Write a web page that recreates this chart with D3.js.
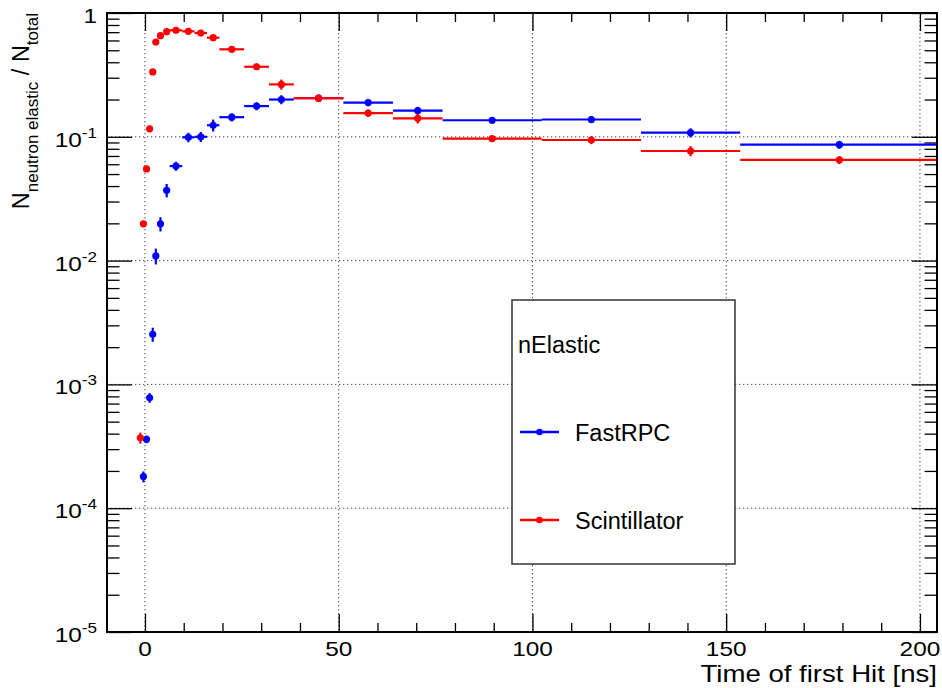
<!DOCTYPE html>
<html>
<head>
<meta charset="utf-8">
<script src="https://cdn.jsdelivr.net/npm/d3@7"></script>
<style>
  html, body { margin: 0; padding: 0; background: #fff; }
  svg { display: block; font-family: "Liberation Sans", Arial, Helvetica, sans-serif; }
</style>
</head>
<body>
<svg id="chart" width="942" height="688"></svg>
<script>
// Variable-width time bins [ns]
const binEdges = [-1.6, -0.8, 0, 0.8, 1.6, 2.4, 3.2, 4.8, 6.4, 9.6, 12.8, 16, 19.2,
                  25.6, 32, 38.4, 51.2, 64, 76.8, 102.4, 128, 153.6, 204.8];

// Fraction of neutron elastic events per bin, with statistical errors
const fastRpcValues = [null, 1.8e-4, 3.6e-4, 7.8e-4, 2.54e-3, 0.0109, 0.0198, 0.037, 0.058,
                       0.099, 0.100, 0.124, 0.144, 0.177, 0.200, 0.205, 0.189, 0.1625,
                       0.136, 0.138, 0.108, 0.0863];
const fastRpcErrors = [null, 1.8e-5, 2.5e-5, 7e-5, 3.3e-4, 1.6e-3, 2.6e-3, 4.6e-3, 4.9e-3,
                       8.7e-3, 9.3e-3, 0.0138, 0.0108, 0.0132, 0.0168, 0.0134, 0.0123, 0.0121,
                       0.0076, 0.009, 0.0091, 0.0064];
const scintValues = [3.7e-4, 0.0198, 0.055, 0.116, 0.334, 0.583, 0.656, 0.706, 0.725,
                     0.711, 0.689, 0.632, 0.509, 0.368, 0.265, 0.205, 0.1556, 0.141,
                     0.0965, 0.0942, 0.0768, 0.065];
const scintErrors = [3.8e-5, 7e-4, 2e-3, 4e-3, 0.01, 0.015, 0.015, 0.015, 0.015,
                     0.015, 0.015, 0.015, 0.012, 0.022, 0.025, 0.013, 0.011, 0.013,
                     0.0055, 0.007, 0.0073, 0.0048];

const xMajorTicks = [0, 50, 100, 150, 200];
const xMinorTicks = [10, 20, 30, 40, 60, 70, 80, 90, 110, 120, 130, 140, 160, 170, 180, 190];
const yDecades = [-5, -4, -3, -2, -1, 0];

const legendTitle = "nElastic";
const seriesNames = ["FastRPC", "Scintillator"];
const xTitle = "Time of first Hit [ns]";

const colors = ["#0000ff", "#ff0000"];

// ---- layout ----
const frame = { left: 107, right: 937, top: 13, bottom: 632 };
const svg = d3.select("#chart");

const x = d3.scaleLinear().domain([-9.8, 204.4]).range([frame.left, frame.right]);
const y = d3.scaleLog().domain([1e-5, 1]).range([frame.bottom, frame.top]);

const yMajor = yDecades.map(e => Math.pow(10, e));
const yMinor = [];
yDecades.slice(0, -1).forEach(e => { for (let k = 2; k <= 9; k++) yMinor.push(k * Math.pow(10, e)); });

// stretched text helper (axis labels are drawn wider than the face's natural width)
function addText(parent, px, py, size, anchor, sx) {
  const g = parent.append("g").attr("transform", `translate(${px},${py}) scale(${sx},1)`);
  return g.append("text").attr("font-size", size).attr("text-anchor", anchor).attr("fill", "#000");
}

// ---- grid ----
const grid = svg.append("g").attr("stroke", "#444").attr("stroke-width", 1).attr("stroke-dasharray", "1.3,2.7");
grid.selectAll("line.gx").data(xMajorTicks).join("line")
  .attr("x1", d => x(d)).attr("x2", d => x(d)).attr("y1", frame.top).attr("y2", frame.bottom);
grid.selectAll("line.gy").data(yMajor.slice(1, -1)).join("line")
  .attr("y1", d => y(d)).attr("y2", d => y(d)).attr("x1", frame.left).attr("x2", frame.right);

// ---- ticks (d3 axes, ticks pointing inward) ----
function tickAxis(gen, scale, vals, size, tx, ty) {
  const a = gen(scale).tickValues(vals).tickSize(size).tickFormat("");
  const g = svg.append("g").attr("transform", `translate(${tx},${ty})`).call(a);
  g.select(".domain").remove();
  g.selectAll(".tick line").attr("stroke", "#000").attr("stroke-width", 1.3);
}
tickAxis(d3.axisBottom, x, xMajorTicks, -18, 0, frame.bottom);
tickAxis(d3.axisBottom, x, xMinorTicks, -9, 0, frame.bottom);
tickAxis(d3.axisTop, x, xMajorTicks, -18, 0, frame.top);
tickAxis(d3.axisTop, x, xMinorTicks, -9, 0, frame.top);
tickAxis(d3.axisLeft, y, yMajor, -25, frame.left, 0);
tickAxis(d3.axisLeft, y, yMinor, -12.5, frame.left, 0);
tickAxis(d3.axisRight, y, yMajor, -25, frame.right, 0);
tickAxis(d3.axisRight, y, yMinor, -12.5, frame.right, 0);

// ---- tick labels ----
xMajorTicks.forEach(v => {
  addText(svg, x(v), frame.bottom + 24, 20, "middle", 1.22).text(v);
});
yDecades.forEach(e => {
  const t = addText(svg, 97, y(Math.pow(10, e)) + 10, 20, "end", 1.22);
  if (e === 0) { t.text("1"); return; }
  t.append("tspan").text("10");
  t.append("tspan").attr("font-size", 14).attr("dy", -9).text(String(e));
});

// ---- axis titles ----
addText(svg, frame.right, 682, 23, "end", 1.2).text(xTitle);

const yt = svg.append("text").attr("transform", "translate(29,13) rotate(-90)")
  .attr("text-anchor", "end").attr("font-size", 23.5).attr("fill", "#000");
yt.append("tspan").text("N");
yt.append("tspan").attr("font-size", 17).attr("dy", 9).text("neutron elastic");
yt.append("tspan").attr("dy", -9).text(" / N");
yt.append("tspan").attr("font-size", 17).attr("dy", 9).text("total");

// ---- data ----
svg.append("clipPath").attr("id", "plotClip").append("rect")
  .attr("x", frame.left).attr("y", frame.top)
  .attr("width", frame.right - frame.left).attr("height", frame.bottom - frame.top);

const bins = d3.range(binEdges.length - 1).map(i => ({ lo: binEdges[i], hi: binEdges[i + 1], c: (binEdges[i] + binEdges[i + 1]) / 2 }));
const series = [
  { values: fastRpcValues, errors: fastRpcErrors, color: colors[0] },
  { values: scintValues, errors: scintErrors, color: colors[1] }
];

const plot = svg.append("g").attr("clip-path", "url(#plotClip)");
series.forEach(s => {
  const pts = bins.map((b, i) => ({ ...b, v: s.values[i], e: s.errors[i] })).filter(d => d.v != null);
  const g = plot.append("g").attr("stroke", s.color).attr("fill", s.color).attr("stroke-width", 2.2);
  g.selectAll("line.h").data(pts).join("line")
    .attr("x1", d => x(d.lo)).attr("x2", d => x(d.hi))
    .attr("y1", d => y(d.v)).attr("y2", d => y(d.v));
  g.selectAll("line.v").data(pts).join("line")
    .attr("x1", d => x(d.c)).attr("x2", d => x(d.c))
    .attr("y1", d => y(d.v + d.e)).attr("y2", d => y(Math.max(d.v - d.e, 1e-6)));
  g.selectAll("circle").data(pts).join("circle")
    .attr("cx", d => x(d.c)).attr("cy", d => y(d.v)).attr("r", 3.6).attr("stroke", "none");
});

// ---- frame ----
svg.append("rect").attr("x", frame.left).attr("y", frame.top)
  .attr("width", frame.right - frame.left).attr("height", frame.bottom - frame.top)
  .attr("fill", "none").attr("stroke", "#000").attr("stroke-width", 2);

// ---- legend ----
const leg = svg.append("g");
leg.append("rect").attr("x", 512).attr("y", 300).attr("width", 223).attr("height", 264)
  .attr("fill", "#fff").attr("stroke", "#333").attr("stroke-width", 1.5);
leg.append("text").attr("x", 518).attr("y", 353).attr("font-size", 23.5).text(legendTitle);
seriesNames.forEach((name, i) => {
  const ly = 432 + i * 88;
  leg.append("line").attr("x1", 520).attr("x2", 559).attr("y1", ly).attr("y2", ly)
    .attr("stroke", colors[i]).attr("stroke-width", 2.5);
  leg.append("circle").attr("cx", 539.5).attr("cy", ly).attr("r", 3.3).attr("fill", colors[i]);
  leg.append("text").attr("x", 575).attr("y", ly + 8.5).attr("font-size", 23.5).text(name);
});
</script>
</body>
</html>
